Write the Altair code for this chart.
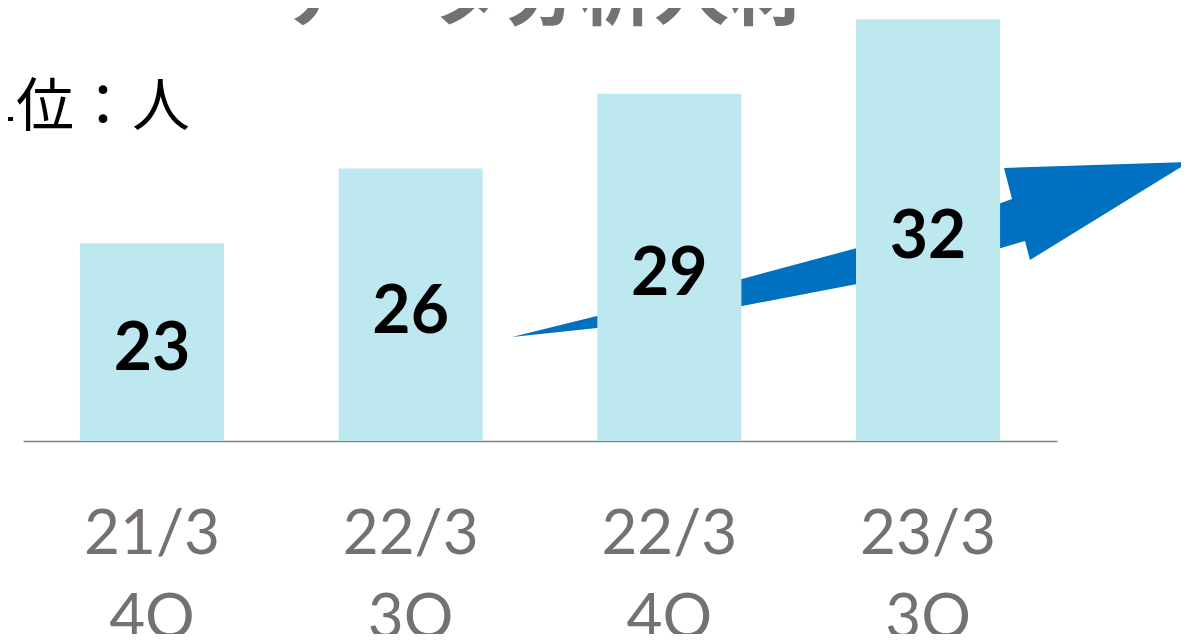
import altair as alt
import pandas as pd

# ---- data ----
categories = ["21/3\n4Q", "22/3\n3Q", "22/3\n4Q", "23/3\n3Q"]
values = [23, 26, 29, 32]
title_text = "データ分析人材"
unit_text = "単位：人"

Y_MIN, Y_MAX = 15.05, 32.45

df = pd.DataFrame({"period": categories, "value": values})

# ---- decorative arrow outline (page pixel space) ----
ARROW_OUTLINE = [
    (512, 337), (597, 316), (742, 279), (857, 248), (1001, 203), (1012, 199),
    (1004, 168), (1189, 162), (1030, 260), (1025, 241), (1001, 248),
    (857, 284), (742, 306), (597, 328),
]
OX, OY = 23, 8  # page offset of the view origin
xs = [p[0] for p in ARROW_OUTLINE]
ys = [p[1] for p in ARROW_OUTLINE]
cx, cy = (min(xs) + max(xs)) / 2, (min(ys) + max(ys)) / 2
half = 340.0
path = "M" + " L".join(f"{(x - cx) / half:.4f},{(y - cy) / half:.4f}" for x, y in ARROW_OUTLINE) + " Z"

base = alt.Chart(df)

xenc = alt.X(
    "period:N",
    sort=None,
    scale=alt.Scale(paddingInner=0.443, paddingOuter=0.22),
    axis=alt.Axis(
        title=None,
        labelExpr="split(datum.label, '\\n')",
        labelFont="Lato",
        labelFontSize=62,
        labelFontWeight="normal",
        labelColor="#767171",
        labelLineHeight=84,
        labelBaseline="alphabetic",
        labelPadding=112,
        labelAngle=0,
        ticks=False,
        domainColor="#7F7F7F",
        domainWidth=1.5,
        grid=False,
    ),
)
yscale = alt.Scale(domain=[Y_MIN, Y_MAX], nice=False, zero=False)

arrow = alt.Chart(pd.DataFrame({"a": [0]})).mark_point(
    shape=path, filled=True, color="#0070C0", opacity=1, strokeWidth=0,
    size=(2 * half) ** 2,
).encode(x=alt.value(cx - OX), y=alt.value(cy - OY))

bars = base.mark_bar(color="#BDE8EF").encode(
    x=xenc,
    y=alt.Y("value:Q", scale=yscale, axis=None),
    y2=alt.datum(Y_MIN),
)

labels = base.transform_calculate(
    mid=f"(datum.value + {Y_MIN}) / 2"
).mark_text(
    font="Lato", fontSize=66, fontWeight="bold", color="#000000",
    baseline="alphabetic", align="center", dy=28,
).encode(
    x=alt.X("period:N", sort=None),
    y=alt.Y("mid:Q", scale=yscale, axis=None),
    text=alt.Text("value:Q"),
)

title = alt.Chart(pd.DataFrame({"t": [title_text]})).mark_text(
    font="Noto Sans CJK JP", fontSize=75, fontWeight="bold", color="#767171",
    align="center", baseline="alphabetic",
).encode(x=alt.value(541.5 - OX), y=alt.value(19 - OY), text="t:N")

unit = alt.Chart(pd.DataFrame({"t": [unit_text]})).mark_text(
    font="Noto Sans CJK JP", fontSize=58, color="#000000",
    align="right", baseline="alphabetic",
).encode(x=alt.value(190 - OX), y=alt.value(126 - OY), text="t:N")

chart = alt.layer(arrow, bars, labels, title, unit).properties(
    width=1034,
    height=433,
    padding={"left": 15, "top": 0, "right": 124, "bottom": 193},
    autosize=alt.AutoSizeParams(type="none"),
).configure(background="white", view=alt.ViewConfig(stroke=None))

chart.save("out.html", embed_options={"renderer": "svg", "actions": False})
